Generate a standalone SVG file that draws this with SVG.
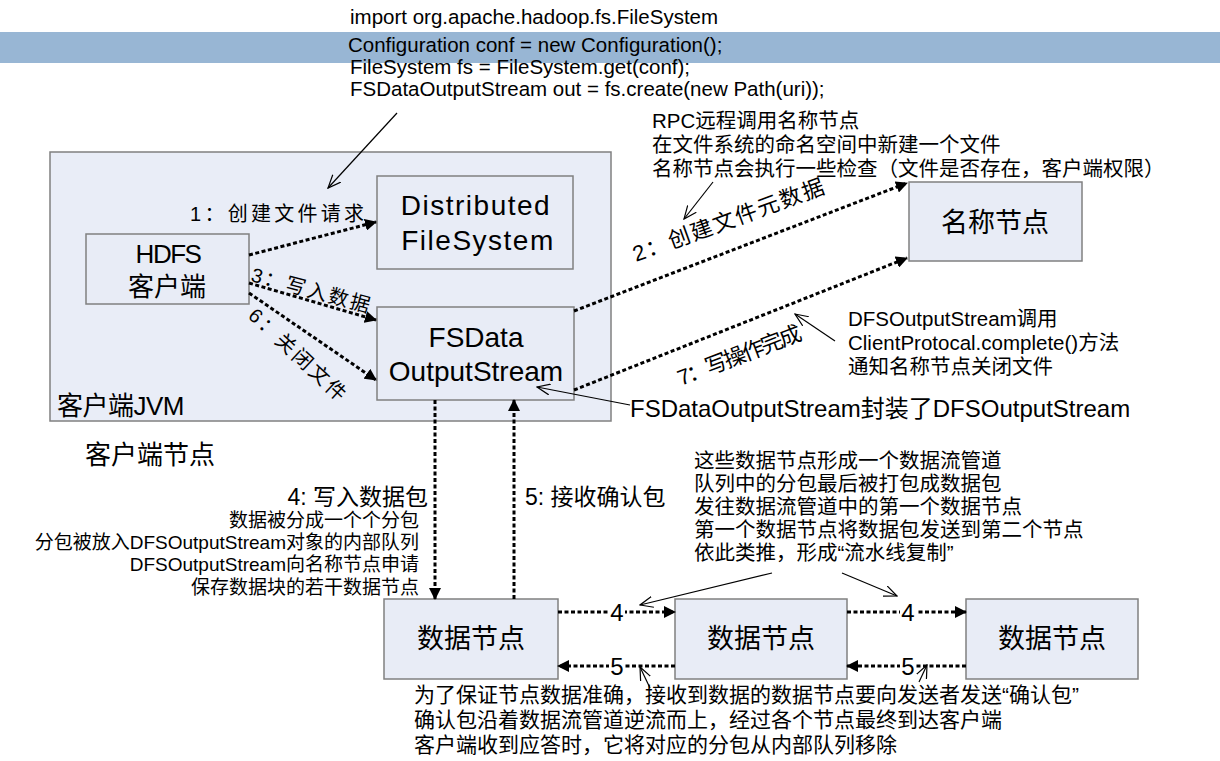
<svg xmlns="http://www.w3.org/2000/svg" width="1220" height="761" viewBox="0 0 1220 761">
<defs>
<style>
text{font-family:"Liberation Sans","Noto Sans CJK SC",sans-serif;fill:#000}
.box{fill:#e8ecf6;stroke:#808080;stroke-width:1.5}
.dash{fill:none;stroke:#000;stroke-width:3;stroke-dasharray:4 2.5;marker-end:url(#ah)}
.thin{fill:none;stroke:#000;stroke-width:1.2;marker-end:url(#oh)}
.code{font-size:20.5px}
.note{font-size:20.5px}
.small{font-size:19px}
.lbl{font-size:20px}
.big{font-size:27px}
.mid{text-anchor:middle}
.end{text-anchor:end}
</style>
<marker id="ah" markerUnits="userSpaceOnUse" markerWidth="12" markerHeight="12" viewBox="0 0 12 12" refX="11" refY="6" orient="auto"><path d="M0,0 L12,6 L0,12 Z" fill="#000"/></marker>
<marker id="oh" markerUnits="userSpaceOnUse" markerWidth="14" markerHeight="12" viewBox="0 0 14 12" refX="13" refY="6" orient="auto"><path d="M0,0.5 L13,6 L0,11.5" fill="none" stroke="#000" stroke-width="1.2"/></marker>
</defs>
<rect width="1220" height="761" fill="#fff"/>

<g id="code">
<text class="code" x="350" y="24">import org.apache.hadoop.fs.FileSystem</text>
<rect x="0" y="32" width="1220" height="31" fill="#98b6d4"/>
<text class="code" x="348" y="52">Configuration conf = new Configuration();</text>
<text class="code" x="350" y="74">FileSystem fs = FileSystem.get(conf);</text>
<text class="code" x="350" y="96">FSDataOutputStream out = fs.create(new Path(uri));</text>
</g>

<g id="client-jvm">
<rect x="50" y="152" width="561" height="269" fill="#e9edf7" stroke="#808080" stroke-width="1.5"/>
<text x="57" y="415" font-size="26" letter-spacing="-0.5">客户端JVM</text>
</g>
<text id="client-node" x="85" y="464" font-size="26">客户端节点</text>

<g id="hdfs-client">
<rect class="box" x="86" y="234" width="163" height="70"/>
<text class="mid" x="168" y="263" font-size="26" letter-spacing="-1.5">HDFS</text>
<text class="mid" x="167" y="296" font-size="26">客户端</text>
</g>
<g id="dfs">
<rect class="box" x="377" y="176" width="196" height="93"/>
<text class="mid" x="476" y="215" font-size="28" letter-spacing="1.5">Distributed</text>
<text class="mid" x="478" y="250" font-size="28" letter-spacing="1.5">FileSystem</text>
</g>
<g id="fsdos">
<rect class="box" x="377" y="307" width="197" height="93"/>
<text class="mid" x="476" y="347" font-size="28">FSData</text>
<text class="mid" x="476" y="381" font-size="28">OutputStream</text>
</g>
<g id="namenode">
<rect class="box" x="909" y="182" width="173" height="79"/>
<text class="mid big" x="995" y="232">名称节点</text>
</g>
<g id="dn1">
<rect class="box" x="384" y="599" width="174" height="80"/>
<text class="mid big" x="471" y="648">数据节点</text>
</g>
<g id="dn2">
<rect class="box" x="675" y="599" width="172" height="80"/>
<text class="mid big" x="761" y="648">数据节点</text>
</g>
<g id="dn3">
<rect class="box" x="966" y="599" width="172" height="80"/>
<text class="mid big" x="1052" y="648">数据节点</text>
</g>

<g id="connectors">
<line class="thin" x1="397" y1="113" x2="328" y2="188"/>
<line class="dash" x1="249" y1="255" x2="376" y2="222"/>
<line class="dash" x1="249" y1="283" x2="376" y2="320"/>
<line class="dash" x1="249" y1="293" x2="376" y2="380"/>
<line class="dash" x1="574" y1="311" x2="907" y2="183"/>
<line class="dash" x1="574" y1="390" x2="907" y2="258"/>
<line class="dash" x1="435" y1="400" x2="435" y2="599"/>
<line class="dash" x1="514" y1="599" x2="514" y2="400"/>
<line class="dash" x1="558" y1="612" x2="675" y2="612"/>
<line class="dash" x1="675" y1="666" x2="558" y2="666"/>
<line class="dash" x1="847" y1="612" x2="966" y2="612"/>
<line class="dash" x1="966" y1="666" x2="847" y2="666"/>
<line class="thin" x1="713" y1="182" x2="684" y2="219"/>
<line class="thin" x1="835" y1="341" x2="795" y2="314"/>
<line class="thin" x1="630" y1="405" x2="537" y2="387"/>
<line class="thin" x1="772" y1="573" x2="640" y2="605"/>
<line class="thin" x1="842" y1="573" x2="897" y2="596"/>
<line class="thin" x1="650" y1="688" x2="640" y2="667"/>
<line class="thin" x1="919" y1="682" x2="927" y2="665"/>
<rect x="609" y="601" width="16" height="22" fill="#fff"/>
<rect x="609" y="655" width="16" height="22" fill="#fff"/>
<rect x="900" y="601" width="16" height="22" fill="#fff"/>
<rect x="900" y="655" width="16" height="22" fill="#fff"/>
<text class="mid" x="617" y="621" font-size="24">4</text>
<text class="mid" x="617" y="675" font-size="24">5</text>
<text class="mid" x="908" y="621" font-size="24">4</text>
<text class="mid" x="908" y="675" font-size="24">5</text>
<text class="lbl" x="190" y="221" textLength="174">1：创建文件请求</text>
<text class="lbl" x="250" y="281" textLength="122" transform="rotate(15 250 281)">3：写入数据</text>
<text class="lbl" x="247" y="317" textLength="125" transform="rotate(43 247 317)">6：关闭文件</text>
<text x="636" y="262" textLength="202" font-size="22" transform="rotate(-20 636 262)">2：创建文件元数据</text>
<text x="681" y="386" textLength="131" font-size="22" transform="rotate(-21 681 386)">7：写操作完成</text>
<text x="428" y="505" class="end" font-size="23">4: 写入数据包</text>
<text x="525" y="505" font-size="23">5: 接收确认包</text>
</g>

<g id="notes">
<text class="note" x="652" y="128">RPC远程调用名称节点</text>
<text class="note" x="652" y="152">在文件系统的命名空间中新建一个文件</text>
<text class="note" x="652" y="176">名称节点会执行一些检查（文件是否存在，客户端权限）</text>
<text class="note" x="848" y="326">DFSOutputStream调用</text>
<text class="note" x="848" y="350">ClientProtocal.complete()方法</text>
<text class="note" x="848" y="374">通知名称节点关闭文件</text>
<text x="630" y="417" font-size="24">FSDataOutputStream封装了DFSOutputStream</text>
<text class="small end" x="419" y="527">数据被分成一个个分包</text>
<text class="small end" x="419" y="549">分包被放入DFSOutputStream对象的内部队列</text>
<text class="small end" x="419" y="571">DFSOutputStream向名称节点申请</text>
<text class="small end" x="419" y="594">保存数据块的若干数据节点</text>
<text class="note" x="694" y="468">这些数据节点形成一个数据流管道</text>
<text class="note" x="694" y="491">队列中的分包最后被打包成数据包</text>
<text class="note" x="694" y="514">发往数据流管道中的第一个数据节点</text>
<text class="note" x="694" y="537">第一个数据节点将数据包发送到第二个节点</text>
<text class="note" x="694" y="560">依此类推，形成“流水线复制”</text>
<text font-size="21" x="414" y="702">为了保证节点数据准确，接收到数据的数据节点要向发送者发送“确认包”</text>
<text font-size="21" x="414" y="727">确认包沿着数据流管道逆流而上，经过各个节点最终到达客户端</text>
<text font-size="21" x="414" y="752">客户端收到应答时，它将对应的分包从内部队列移除</text>
</g>
</svg>
